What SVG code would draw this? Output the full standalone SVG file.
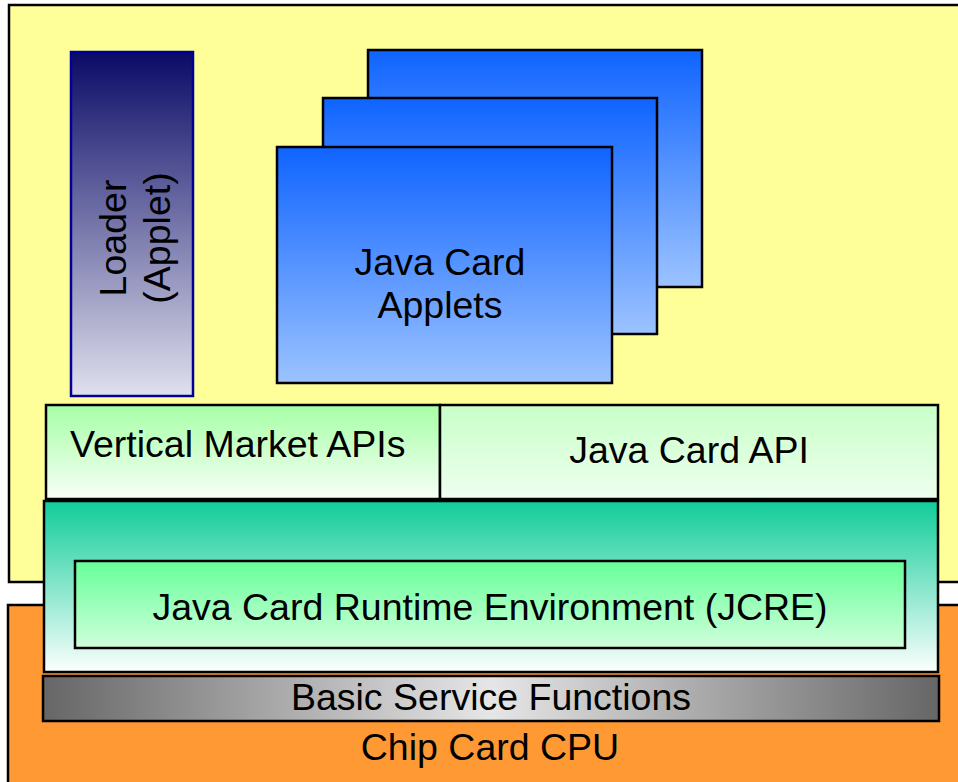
<svg xmlns="http://www.w3.org/2000/svg" width="958" height="782" viewBox="0 0 958 782">
<style>
text{font-family:"Liberation Sans",Arial,sans-serif;font-size:37.5px;fill:#000}
.c{text-anchor:middle}
.b{stroke:#000;stroke-width:2.5}
</style>
<defs>
<linearGradient id="gLoader" x1="0" y1="0" x2="0" y2="1"><stop offset="0" stop-color="#0a0a66"/><stop offset="1" stop-color="#e0e0ee"/></linearGradient>
<linearGradient id="gApplet" x1="0" y1="0" x2="0" y2="1"><stop offset="0" stop-color="#0f64ff"/><stop offset="1" stop-color="#9cc3ff"/></linearGradient>
<linearGradient id="gVm" x1="0" y1="0" x2="0" y2="1"><stop offset="0" stop-color="#a6ffa6"/><stop offset="1" stop-color="#f8fff8"/></linearGradient>
<linearGradient id="gApi" x1="0" y1="0" x2="0" y2="1"><stop offset="0" stop-color="#c8ffc8"/><stop offset="1" stop-color="#effff0"/></linearGradient>
<linearGradient id="gJcreOut" x1="0" y1="0" x2="0" y2="1"><stop offset="0" stop-color="#11cc99"/><stop offset="1" stop-color="#fbfffd"/></linearGradient>
<linearGradient id="gJcreIn" x1="0" y1="0" x2="0" y2="1"><stop offset="0" stop-color="#66ff99"/><stop offset="1" stop-color="#d0ffdc"/></linearGradient>
<linearGradient id="gBsf" x1="0" y1="0" x2="1" y2="0"><stop offset="0" stop-color="#666666"/><stop offset="0.5" stop-color="#e6e6e6"/><stop offset="1" stop-color="#666666"/></linearGradient>
</defs>
<rect width="958" height="782" fill="#fff"/>
<g id="card-area"><rect x="9" y="5" width="960" height="577" fill="#ffff99" class="b"/></g>
<g id="chip-cpu"><rect x="8" y="605" width="960" height="190" fill="#ff9933" class="b"/>
<text class="c" x="490" y="760">Chip Card CPU</text></g>
<g id="loader"><rect x="71" y="52" width="122" height="344" fill="url(#gLoader)" stroke="#000099" stroke-width="2.5"/>
<text class="c" transform="translate(126,238) rotate(-90)"><tspan x="0" y="0">Loader</tspan><tspan x="0" y="44">(Applet)</tspan></text></g>
<g id="applets">
<rect x="368" y="50" width="334" height="237" fill="url(#gApplet)" class="b"/>
<rect x="323" y="98" width="334" height="236" fill="url(#gApplet)" class="b"/>
<rect x="277" y="147" width="335" height="236" fill="url(#gApplet)" class="b"/>
<text class="c" x="440" y="275">Java Card</text>
<text class="c" x="440" y="318">Applets</text></g>
<g id="vertical-market"><rect x="46" y="405" width="394" height="94" fill="url(#gVm)" class="b"/>
<text x="70" y="457">Vertical Market APIs</text></g>
<g id="java-card-api"><rect x="440" y="405" width="498" height="94" fill="url(#gApi)" class="b"/>
<text class="c" x="689" y="463">Java Card API</text></g>
<g id="jcre-outer"><rect x="44" y="501" width="894" height="171" fill="url(#gJcreOut)" class="b"/></g>
<g id="jcre"><rect x="75" y="561" width="830" height="87" fill="url(#gJcreIn)" class="b"/>
<text class="c" x="490" y="620">Java Card Runtime Environment (JCRE)</text></g>
<g id="basic-service"><rect x="43" y="676" width="896" height="45" fill="url(#gBsf)" class="b"/>
<text class="c" x="491" y="710">Basic Service Functions</text></g>
<g id="connectors"/>
</svg>
